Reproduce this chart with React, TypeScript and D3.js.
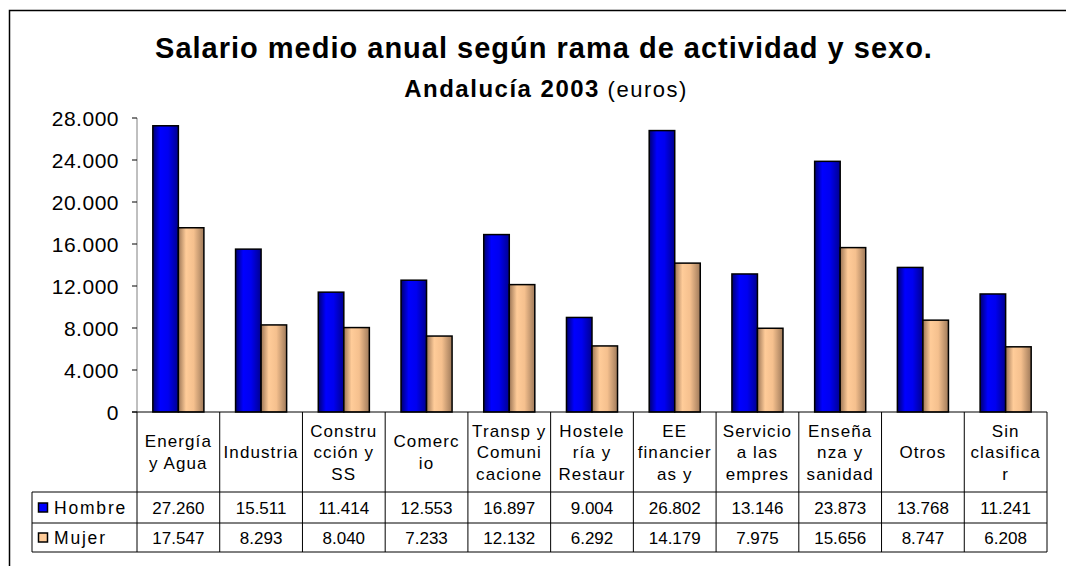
import React from 'react';
import * as d3 from 'd3';

// Data
const categories: string[][] = [
  ['Energía', 'y Agua'],
  ['Industria'],
  ['Constru', 'cción y', 'SS'],
  ['Comerc', 'io'],
  ['Transp y', 'Comuni', 'cacione'],
  ['Hostele', 'ría y', 'Restaur'],
  ['EE', 'financier', 'as y'],
  ['Servicio', 'a las', 'empres'],
  ['Enseña', 'nza y', 'sanidad'],
  ['Otros'],
  ['Sin', 'clasifica', 'r'],
];
const hombre = [27260, 15511, 11414, 12553, 16897, 9004, 26802, 13146, 23873, 13768, 11241];
const mujer = [17547, 8293, 8040, 7233, 12132, 6292, 14179, 7975, 15656, 8747, 6208];
const seriesNames = ['Hombre', 'Mujer'];
const yTicks = [0, 4000, 8000, 12000, 16000, 20000, 24000, 28000];

const W = 1066;
const H = 566;
const font = '"Liberation Sans", Arial, sans-serif';

const fmt = (v: number) => d3.format(',')(v).replace(/,/g, '.');

const App: React.FC = () => {
  const plotLeft = 137;
  const plotRight = 1047;
  const plotTop = 118;
  const plotBottom = 412;
  const headerBottom = 492;
  const row1Bottom = 523;
  const row2Bottom = 552;
  const legendLeft = 32;

  const keys = categories.map((_, i) => String(i));
  const x = d3.scaleBand<string>().domain(keys).range([plotLeft, plotRight]).padding(0);
  const xs = d3.scaleBand<string>().domain(seriesNames).range([0, x.bandwidth()]).paddingInner(0).paddingOuter(0.62);
  const y = d3.scaleLinear().domain([0, 28000]).range([plotBottom, plotTop]);

  const series = [
    { name: 'Hombre', values: hombre, fill: 'url(#gBlue)', swatch: '#0000ff' },
    { name: 'Mujer', values: mujer, fill: 'url(#gPeach)', swatch: '#ffcc99' },
  ];

  const rowMid = [(headerBottom + row1Bottom) / 2, (row1Bottom + row2Bottom) / 2];
  const lineH = 21.5;
  const headerMid = (plotBottom + headerBottom) / 2;

  return (
    <svg width={W} height={H} style={{ position: 'absolute', left: 0, top: 0, background: '#fff' }} fontFamily={font}>
      <defs>
        <linearGradient id="gBlue" x1="0" x2="1" y1="0" y2="0">
          <stop offset="0" stopColor="#000070" />
          <stop offset="0.3" stopColor="#0000ff" />
          <stop offset="0.6" stopColor="#0000f0" />
          <stop offset="1" stopColor="#000090" />
        </linearGradient>
        <linearGradient id="gPeach" x1="0" x2="1" y1="0" y2="0">
          <stop offset="0" stopColor="#9c7656" />
          <stop offset="0.3" stopColor="#ffcc99" />
          <stop offset="0.6" stopColor="#f5c08e" />
          <stop offset="1" stopColor="#9f7a5a" />
        </linearGradient>
      </defs>

      {/* outer chart border (left/top visible) */}
      <rect x={9.5} y={10.5} width={W + 20} height={H + 20} fill="none" stroke="#000" strokeWidth={1.5} />

      {/* Title */}
      <text x={544} y={58} textAnchor="middle" fontSize={29} fontWeight="bold" fill="#000" letterSpacing={1}>
        Salario medio anual según rama de actividad y sexo.
      </text>
      <text x={546} y={97} textAnchor="middle" fill="#000">
        <tspan fontWeight="bold" fontSize={24} letterSpacing={1.5}>Andalucía 2003</tspan>
        <tspan fontSize={22} letterSpacing={1.5}> (euros)</tspan>
      </text>

      {/* Y axis */}
      <line x1={plotLeft} x2={plotLeft} y1={plotTop} y2={plotBottom} stroke="#808080" strokeWidth={1} />
      {yTicks.map((t) => (
        <g key={t}>
          <line x1={plotLeft - 5} x2={plotLeft} y1={y(t)} y2={y(t)} stroke="#000" />
          <text x={119} y={y(t)} dy="0.36em" textAnchor="end" fontSize={21} fill="#000" letterSpacing={0.5}>
            {fmt(t)}
          </text>
        </g>
      ))}

      {/* Bars */}
      {series.map((s) =>
        s.values.map((v, i) => (
          <rect
            key={s.name + i}
            x={(x(String(i)) ?? 0) + (xs(s.name) ?? 0)}
            y={y(v)}
            width={xs.bandwidth()}
            height={plotBottom - y(v)}
            fill={s.fill}
            stroke="#000"
            strokeWidth={1.5}
          />
        ))
      )}

      {/* Data table */}
      <g stroke="#000" strokeWidth={1} fill="none">
        <line x1={plotLeft - 5} x2={plotRight} y1={plotBottom} y2={plotBottom} />
        <line x1={legendLeft} x2={plotRight} y1={headerBottom} y2={headerBottom} />
        <line x1={legendLeft} x2={plotRight} y1={row1Bottom} y2={row1Bottom} />
        <line x1={legendLeft} x2={plotRight} y1={row2Bottom} y2={row2Bottom} />
        <line x1={legendLeft} x2={legendLeft} y1={headerBottom} y2={row2Bottom} />
        {keys.map((k) => (
          <line key={k} x1={(x(k) ?? 0) + x.bandwidth()} x2={(x(k) ?? 0) + x.bandwidth()} y1={plotBottom} y2={row2Bottom} />
        ))}
        <line x1={plotLeft} x2={plotLeft} y1={plotBottom} y2={row2Bottom} />
      </g>

      {categories.map((lines, i) => {
        const cx = (x(String(i)) ?? 0) + x.bandwidth() / 2;
        const start = headerMid - ((lines.length - 1) * lineH) / 2;
        return (
          <text key={i} textAnchor="middle" fontSize={17} fill="#000" letterSpacing={1.1}>
            {lines.map((l, j) => (
              <tspan key={j} x={cx} y={start + j * lineH} dy="0.36em">
                {l}
              </tspan>
            ))}
          </text>
        );
      })}

      {series.map((s, r) => (
        <g key={s.name}>
          <rect x={38.5} y={rowMid[r] - 4.5} width={9} height={9} fill={s.swatch} stroke="#000" strokeWidth={1.5} />
          <text x={54} y={rowMid[r]} dy="0.36em" fontSize={17.5} fill="#000" letterSpacing={1.8}>
            {s.name}
          </text>
          {s.values.map((v, i) => (
            <text
              key={i}
              x={(x(String(i)) ?? 0) + x.bandwidth() / 2}
              y={rowMid[r]}
              dy="0.36em"
              textAnchor="middle"
              fontSize={17}
              fill="#000"
            >
              {fmt(v)}
            </text>
          ))}
        </g>
      ))}
    </svg>
  );
};

export default App;
